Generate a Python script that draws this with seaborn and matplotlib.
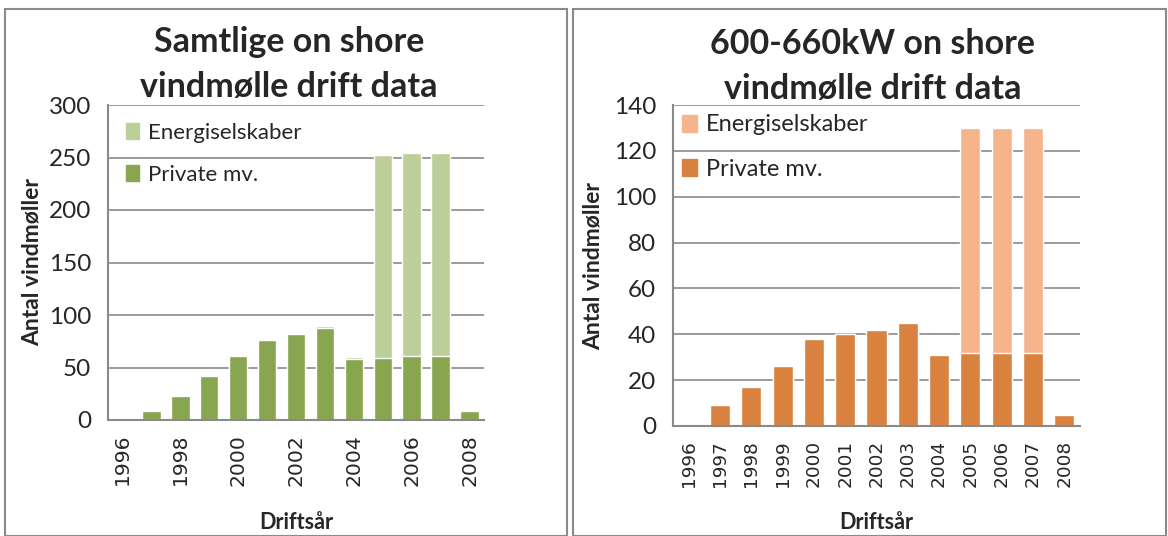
"""Antal on shore vindmøller pr. driftsår - to stablede søjlediagrammer"""

import pandas as pd
import seaborn as sns
import matplotlib.pyplot as plt
from matplotlib.patches import Rectangle, Patch

sns.set_theme(style="white")
plt.rcParams["font.family"] = ["Lato", "DejaVu Sans"]

years = [str(y) for y in range(1996, 2009)]

# Samtlige
all_private = [1, 9, 23, 42, 61, 76, 82, 88, 58, 59, 61, 61, 9]
all_energy = [0, 0, 0, 0, 0, 0, 0, 2, 2, 193, 193, 193, 0]

# 600-660kW
mid_private = [1, 9, 17, 26, 38, 40, 42, 45, 31, 32, 32, 32, 5]
mid_energy = [0, 0, 0, 0, 0, 0, 0, 0, 0, 98, 98, 98, 0]

W, H = 1168, 536


def px_axes(fig, left, top, right, bottom):
    """Laver en akse ud fra pixelkoordinater (fra øverste venstre hjørne)"""
    return fig.add_axes([left / W, 1 - bottom / H, (right - left) / W, (bottom - top) / H])


def stacked_plot(ax, private, energy, dark, light, ymax, step, tick_every, opts):
    df = pd.DataFrame({"year": years, "private": private, "energy": energy})
    df["total"] = df["private"] + df["energy"]

    sns.barplot(data=df, x="year", y="total", color=light, width=0.64,
                saturation=1, ax=ax)
    sns.barplot(data=df, x="year", y="private", color=dark, width=0.64,
                saturation=1, ax=ax)

    ax.set_ylim(0, ymax)
    ax.set_yticks(range(0, ymax + 1, step))
    ax.tick_params(axis="y", labelsize=17.5, length=0, pad=12)
    ax.set_xlim(-0.5, len(years) - 0.5)
    ticks = list(range(0, len(years), tick_every))
    ax.set_xticks(ticks)
    ax.set_xticklabels([years[i] for i in ticks], rotation=90,
                       family="DejaVu Sans", fontsize=opts["xtick_size"])
    ax.tick_params(axis="x", length=0, pad=opts["xtick_pad"])

    ax.yaxis.grid(True, color="#8a8a8a", linewidth=1.2)
    ax.set_axisbelow(True)
    for side in ["top", "right"]:
        ax.spines[side].set_visible(False)
    for side in ["left", "bottom"]:
        ax.spines[side].set_color("#8a8a8a")
        ax.spines[side].set_linewidth(1.5)

    ax.set_xlabel("Driftsår", fontsize=15.5, fontweight="bold", va="center")
    ax.xaxis.set_label_coords(0.5, opts["xlabel_y"])
    ax.set_ylabel("Antal vindmøller", fontsize=16.5, fontweight="bold", va="center")
    ax.yaxis.set_label_coords(opts["ylabel_x"], 0.5)

    handles = [Patch(color=light, label="Energiselskaber"),
               Patch(color=dark, label="Private mv.")]
    ax.legend(handles=handles, loc="upper left", frameon=False,
              fontsize=opts["legend_size"], handlelength=0.6, handleheight=0.75,
              handletextpad=0.4, labelspacing=1.0,
              borderaxespad=opts["legend_pad"])


fig = plt.figure(figsize=(W / 100, H / 100), dpi=100)

for x0, x1 in [(5, 567), (573, 1166)]:
    fig.patches.append(Rectangle((x0 / W, 0), (x1 - x0) / W, (H - 9) / H,
                                 transform=fig.transFigure, fill=False,
                                 edgecolor="#8a8a8a", linewidth=1.5))

ax1 = px_axes(fig, 108, 105, 484, 420)
stacked_plot(ax1, all_private, all_energy, "#88a54f", "#bccf98", 300, 50, 2,
             {"xtick_size": 14.7, "xtick_pad": 10, "xlabel_y": -0.324,
              "ylabel_x": -0.202, "legend_size": 16, "legend_pad": 0.4})
fig.text(289 / W, 1 - 65 / H, "Samtlige on shore\nvindmølle drift data",
         fontsize=24.5, fontweight="bold", ha="center", va="center",
         linespacing=1.5)

ax2 = px_axes(fig, 673, 105, 1080, 426)
stacked_plot(ax2, mid_private, mid_energy, "#d9823f", "#f5b48c", 140, 20, 1,
             {"xtick_size": 13.3, "xtick_pad": 10, "xlabel_y": -0.30,
              "ylabel_x": -0.197, "legend_size": 17, "legend_pad": 0.0})
fig.text(873 / W, 1 - 67 / H, "600-660kW on shore\nvindmølle drift data",
         fontsize=24.5, fontweight="bold", ha="center", va="center",
         linespacing=1.5)

plt.savefig("out.png", dpi=100)
